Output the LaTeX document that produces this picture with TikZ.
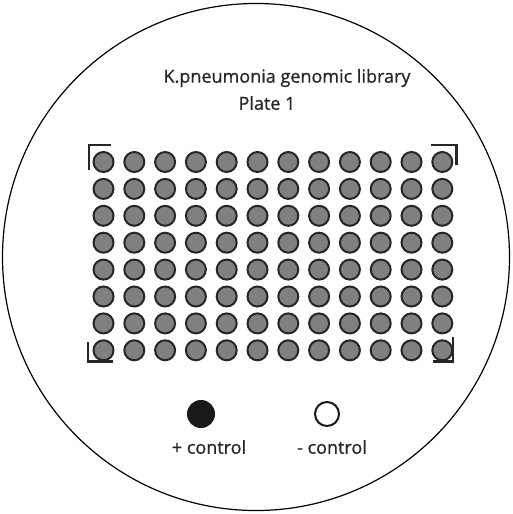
\documentclass[tikz,border=0pt]{standalone}
\usepackage{fontspec}
\setmainfont{Open Sans}
\newfontfamily\lblfont{Open Sans}[FakeBold=0.8]
\begin{document}
\begin{tikzpicture}[x=1pt,y=-1pt,
  well/.style={circle,draw=black!85,line width=2pt,fill=black!50,minimum size=20pt,inner sep=0pt},
  posctl/.style={circle,draw=black!90,line width=1pt,fill=black!90,minimum size=27pt,inner sep=0pt},
  negctl/.style={circle,draw=black!90,line width=2pt,fill=white,minimum size=24pt,inner sep=0pt},
  lbl/.style={font=\lblfont\fontsize{18}{21}\selectfont,text=black!85,inner sep=0pt},
  corner/.style={line width=2.2pt,black!85}]
\useasboundingbox (0,0) rectangle (512,514);
\node[circle,draw=black,line width=1.2pt,minimum size=507pt,inner sep=0pt] (plate) at (256,257) {};
\node[lbl] (title) at (287,78) {K.pneumonia genomic library};
\node[lbl] (plateno) at (267,103) {Plate 1};
\foreach \r in {0,...,7}{
  \foreach \c in {0,...,11}{
    \node[well] (w-\r-\c) at ({103.5+30.8*\c},{162+26.9*\r}) {};
  }
}
\coordinate (tl1) at (89,170); \coordinate (tl2) at (89,145); \coordinate (tl3) at (111,145);
\coordinate (tr1) at (431,145); \coordinate (tr2) at (456.5,145); \coordinate (tr3) at (456.5,165);
\coordinate (bl1) at (88,342); \coordinate (bl2) at (88,361.5); \coordinate (bl3) at (113,361.5);
\coordinate (br1) at (433,361.5); \coordinate (br2) at (453,361.5); \coordinate (br3) at (453,337);
\draw[corner] (tl1) -- (tl2) -- (tl3);
\draw[corner] (tr1) -- (tr2) -- (tr3);
\draw[corner] (bl1) -- (bl2) -- (bl3);
\draw[corner] (br1) -- (br2) -- (br3);
\node[posctl] (pos) at (201,414) {};
\node[negctl] (neg) at (327,414) {};
\node[lbl] (poslbl) at (209,447) {+ control};
\node[lbl] (neglbl) at (332,447) {- control};
\end{tikzpicture}
\end{document}
